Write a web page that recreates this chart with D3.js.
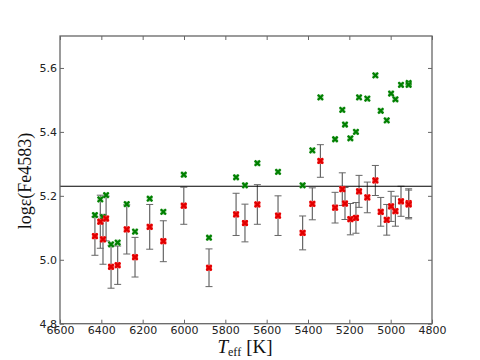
<!DOCTYPE html>
<html><head><meta charset="utf-8">
<script src="https://cdn.jsdelivr.net/npm/d3@7"></script>
<style>body{margin:0;background:#fff}svg{display:block}</style>
</head><body>
<svg id="c" width="480" height="360"></svg>
<script>
const teff = [6431,6405,6392,6377,6353,6321,6277,6237,6166,6100,6001,5879,5748,5705,5645,
  5545,5426,5379,5340,5269,5234,5221,5195,5168,5153,5113,5074,5048,5019,4998,4977,4950,4913,4913];
const logCorr = [5.074,5.119,5.064,5.129,4.978,4.983,5.095,5.008,5.103,5.058,5.169,4.975,5.142,5.115,5.173,
  5.138,5.084,5.175,5.309,5.163,5.221,5.176,5.127,5.131,5.214,5.195,5.248,5.150,5.125,5.167,5.152,5.183,5.177,5.173];
const errCorr = [0.060,0.083,0.078,0.070,0.067,0.060,0.077,0.062,0.070,0.064,0.058,0.059,0.066,0.059,0.062,
  0.062,0.053,0.050,0.051,0.048,0.051,0.050,0.049,0.048,0.050,0.048,0.047,0.045,0.048,0.047,0.047,0.047,0.045,0.045];
const logRaw = [5.140,5.189,5.133,5.202,5.048,5.054,5.174,5.088,5.191,5.150,5.266,5.069,5.258,5.233,5.302,
  5.275,5.233,5.342,5.508,5.377,5.469,5.423,5.380,5.400,5.508,5.504,5.577,5.466,5.436,5.520,5.502,5.547,5.553,5.547];
const refLevel = 5.23;
const xTicks = [6600,6400,6200,6000,5800,5600,5400,5200,5000,4800];
const yTicks = [4.8,5.0,5.2,5.4,5.6];

const svg = d3.select("#c");
const L=60,R=432,T=36,B=323.7;
const x = d3.scaleLinear().domain([6600,4800]).range([L,R]);
const y = d3.scaleLinear().domain([4.8,5.7]).range([B,T]);

// error bars
const eb = svg.append("g").attr("stroke","#666");
teff.forEach((t,i)=>{
  const xp=x(t), y1=y(logCorr[i]+errCorr[i]), y2=y(logCorr[i]-errCorr[i]);
  eb.append("line").attr("x1",xp).attr("x2",xp).attr("y1",y1).attr("y2",y2).attr("stroke-width",1.2);
  [y1,y2].forEach(yy=>eb.append("line").attr("x1",xp-3.5).attr("x2",xp+3.5).attr("y1",yy).attr("y2",yy).attr("stroke-width",1));
});

// horizontal reference line
svg.append("line").attr("x1",L).attr("x2",R).attr("y1",y(refLevel)).attr("y2",y(refLevel)).attr("stroke","#000").attr("stroke-width",1.2);

function xmark(g, xp, yp, col, sz){
  g.append("path").attr("d",`M${xp-sz},${yp-sz}L${xp+sz},${yp+sz}M${xp-sz},${yp+sz}L${xp+sz},${yp-sz}`)
    .attr("stroke",col).attr("stroke-width",2.2).attr("fill","none");
}
// green raw points
const gg = svg.append("g");
teff.forEach((t,i)=>{
  const xp=x(t), yp=y(logRaw[i]);
  gg.append("rect").attr("x",xp-3).attr("y",yp-3).attr("width",6).attr("height",6).attr("fill","#7fbf7f").attr("opacity",0.6);
  xmark(gg,xp,yp,"#008000",2.6);
});
// red corrected points
const rg = svg.append("g");
teff.forEach((t,i)=>{
  const xp=x(t), yp=y(logCorr[i]);
  rg.append("rect").attr("x",xp-3).attr("y",yp-3).attr("width",6).attr("height",6).attr("fill","#ff4040");
  xmark(rg,xp,yp,"#e00000",2.6);
});

// frame
svg.append("rect").attr("x",L).attr("y",T).attr("width",R-L).attr("height",B-T).attr("fill","none").attr("stroke","#666").attr("stroke-width",1.3);

// axes with inward ticks
const fmt = d3.format(".1f");
const ax = svg.append("g").attr("transform",`translate(0,${B})`)
  .call(d3.axisBottom(x).tickValues(xTicks).tickFormat(d3.format("d")).tickSizeInner(-4).tickSizeOuter(0).tickPadding(4));
const axT = svg.append("g").attr("transform",`translate(0,${T})`)
  .call(d3.axisTop(x).tickValues(xTicks).tickFormat("").tickSizeInner(-4).tickSizeOuter(0));
const ay = svg.append("g").attr("transform",`translate(${L},0)`)
  .call(d3.axisLeft(y).tickValues(yTicks).tickFormat(fmt).tickSizeInner(-4).tickSizeOuter(0).tickPadding(3));
const ayR = svg.append("g").attr("transform",`translate(${R},0)`)
  .call(d3.axisRight(y).tickValues(yTicks).tickFormat("").tickSizeInner(-4).tickSizeOuter(0));
[ax,axT,ay,ayR].forEach(a=>{
  a.select(".domain").remove();
  a.selectAll(".tick line").attr("stroke","#666");
  a.selectAll("text").attr("font-family","DejaVu Sans").attr("font-size",11).attr("fill","#222");
});
ax.selectAll("text").attr("dy","0.55em");

// labels
svg.append("text").attr("transform","translate(31,181) rotate(-90)").attr("text-anchor","middle")
  .attr("font-family","Liberation Serif, serif").attr("font-size",18).attr("fill","#111")
  .text("log\u03B5(Fe4583)");
const xl = svg.append("text").attr("x",245).attr("y",353).attr("text-anchor","middle")
  .attr("font-family","Liberation Serif, serif").attr("font-size",19).attr("fill","#111");
xl.append("tspan").attr("font-style","italic").text("T");
xl.append("tspan").attr("font-size",12).attr("dy",3).text("eff");
xl.append("tspan").attr("dy",-3).attr("dx",5).text("[K]");
</script>
</body></html>
